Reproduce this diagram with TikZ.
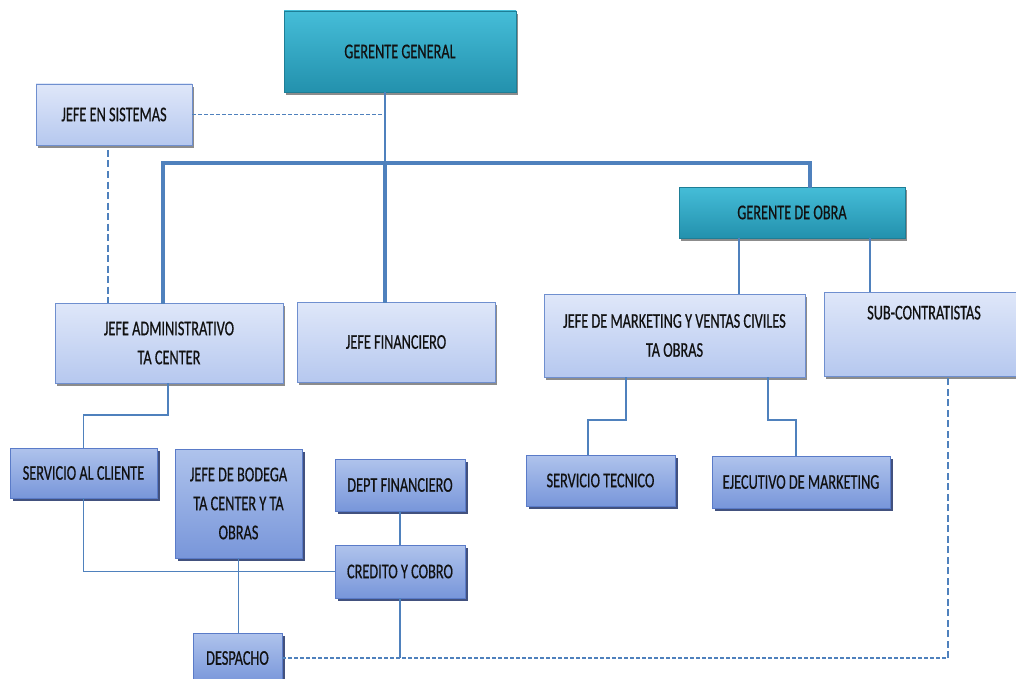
\documentclass[tikz,border=0pt]{standalone}
\usepackage{fontspec}
\setmainfont{Carlito}[FakeStretch=0.68,FakeBold=0.5]
\usetikzlibrary{shadows,calc}
\definecolor{lnblue}{HTML}{4F81BD}
\definecolor{tealtop}{HTML}{45BDD8}
\definecolor{tealbot}{HTML}{2391AD}
\definecolor{tealdraw}{HTML}{1E7E96}
\definecolor{lighttop}{HTML}{DFE7F9}
\definecolor{lightbot}{HTML}{B6C8EF}
\definecolor{lightdraw}{HTML}{6F8FCF}
\definecolor{darktop}{HTML}{AFC3EC}
\definecolor{darkbot}{HTML}{7896DA}
\definecolor{darkdraw}{HTML}{5A7BC8}
\definecolor{navyshadow}{HTML}{2E3F70}
\definecolor{txt}{HTML}{111111}
\tikzset{
  basebox/.style={rectangle, inner sep=2pt, align=center, text=txt,
    font=\fontsize{21}{29}\selectfont, line width=0.8pt},
  tealbox/.style={basebox, top color=tealtop, bottom color=tealbot, draw=tealdraw,
    drop shadow={shadow xshift=2pt, shadow yshift=-3pt, fill=black, opacity=0.45}},
  lightbox/.style={basebox, top color=lighttop, bottom color=lightbot, draw=lightdraw,
    drop shadow={shadow xshift=2pt, shadow yshift=-3pt, fill=black, opacity=0.45}},
  darkbox/.style={basebox, top color=darktop, bottom color=darkbot, draw=darkdraw,
    drop shadow={shadow xshift=2.5pt, shadow yshift=-3pt, fill=navyshadow, opacity=0.9}},
  labeltext/.style={text=txt, font=\fontsize{21}{29}\selectfont, inner sep=0pt},
  thinln/.style={draw=lnblue, line width=1.1pt},
  thickln/.style={draw=lnblue, line width=3.5pt, line cap=rect},
  dashln/.style={draw=lnblue, line width=1.3pt, dash pattern=on 4pt off 2pt},
  longdashln/.style={draw=lnblue, line width=1.3pt, dash pattern=on 7pt off 3.5pt},
}
\begin{document}
\begin{tikzpicture}[x=1pt,y=-1pt]
\clip (0,0) rectangle (1016,679);
\fill[white] (0,0) rectangle (1016,679);

% nodes
\node[tealbox, minimum width=232pt, minimum height=81pt] (gg) at (400,51.5) {GERENTE GENERAL};
\node[lightbox, minimum width=156pt, minimum height=61pt] (js) at (114,114.5) {JEFE EN SISTEMAS};
\node[tealbox, minimum width=226pt, minimum height=51pt] (go) at (792,212.5) {GERENTE DE OBRA};
\node[lightbox, minimum width=228pt, minimum height=80pt] (ja) at (169,343) {JEFE ADMINISTRATIVO\\TA CENTER};
\node[lightbox, minimum width=198pt, minimum height=80pt] (jf) at (396,342) {JEFE FINANCIERO};
\node[lightbox, minimum width=261pt, minimum height=83pt] (jm) at (674.5,335.5) {JEFE DE MARKETING Y VENTAS CIVILES\\TA OBRAS};
\node[lightbox, minimum width=200pt, minimum height=84pt] (sub) at (924,334) {};
\node[labeltext, anchor=north] (subt) at ([yshift=-14pt]sub.north) {SUB-CONTRATISTAS};

\node[darkbox, minimum width=147pt, minimum height=50pt] (sc) at (83.5,473) {SERVICIO AL CLIENTE};
\node[darkbox, minimum width=127pt, minimum height=109pt] (jb) at (238.5,503.5) {JEFE DE BODEGA\\TA CENTER Y TA\\OBRAS};
\node[darkbox, minimum width=130pt, minimum height=52pt] (df) at (400,485) {DEPT FINANCIERO};
\node[darkbox, minimum width=130pt, minimum height=53pt] (cc) at (400,571.5) {CREDITO Y COBRO};
\node[darkbox, minimum width=89pt, minimum height=50pt] (dp) at (237.5,658) {DESPACHO};
\node[darkbox, minimum width=149pt, minimum height=51pt] (st) at (600.5,480.5) {SERVICIO TECNICO};
\node[darkbox, minimum width=178pt, minimum height=52pt] (ej) at (801,482) {EJECUTIVO DE MARKETING};

% helper coordinates
\coordinate (trunk) at (385,163);
\coordinate (busL) at (163,163);
\coordinate (busR) at (810,163);
\coordinate (jsd) at (108,150);
\coordinate (goL) at (739,0);
\coordinate (goR) at (870,0);
\coordinate (jaS) at (168,415);
\coordinate (jmL) at (626,420);
\coordinate (stN) at (588,420);
\coordinate (jmR) at (768,420);
\coordinate (ejN) at (796,420);
\coordinate (subd) at (948,0);

% connectors
\draw[thinln] (gg.south -| trunk) -- (trunk);
\draw[thickln] (trunk) -- (trunk |- jf.north);
\draw[thickln] (busL |- ja.north) -- (busL) -- (busR) -- (busR |- go.north);
\draw[dashln] (js.east) -- (js.east -| trunk);
\draw[longdashln] (jsd) -- (jsd |- ja.north);
\draw[thinln] (goL |- go.south) -- (goL |- jm.north);
\draw[thinln] (goR |- go.south) -- (goR |- sub.north);
\draw[thinln] (jaS |- ja.south) -- (jaS) -| (sc.north);
\draw[thinln] (sc.south) |- (cc.west);
\draw[thinln] (df.south) -- (cc.north);
\draw[thinln] (jb.south) -- (jb.south |- dp.north);
\draw[thinln] (cc.south) -- (cc.south |- dp.east);
\draw[dashln] (dp.east) -- (subd |- dp.east);
\draw[longdashln] (subd |- dp.east) -- (subd |- sub.south);
\draw[thinln] (jmL |- jm.south) -- (jmL) -- (stN) -- (stN |- st.north);
\draw[thinln] (jmR |- jm.south) -- (jmR) -- (ejN) -- (ejN |- ej.north);
\end{tikzpicture}
\end{document}
